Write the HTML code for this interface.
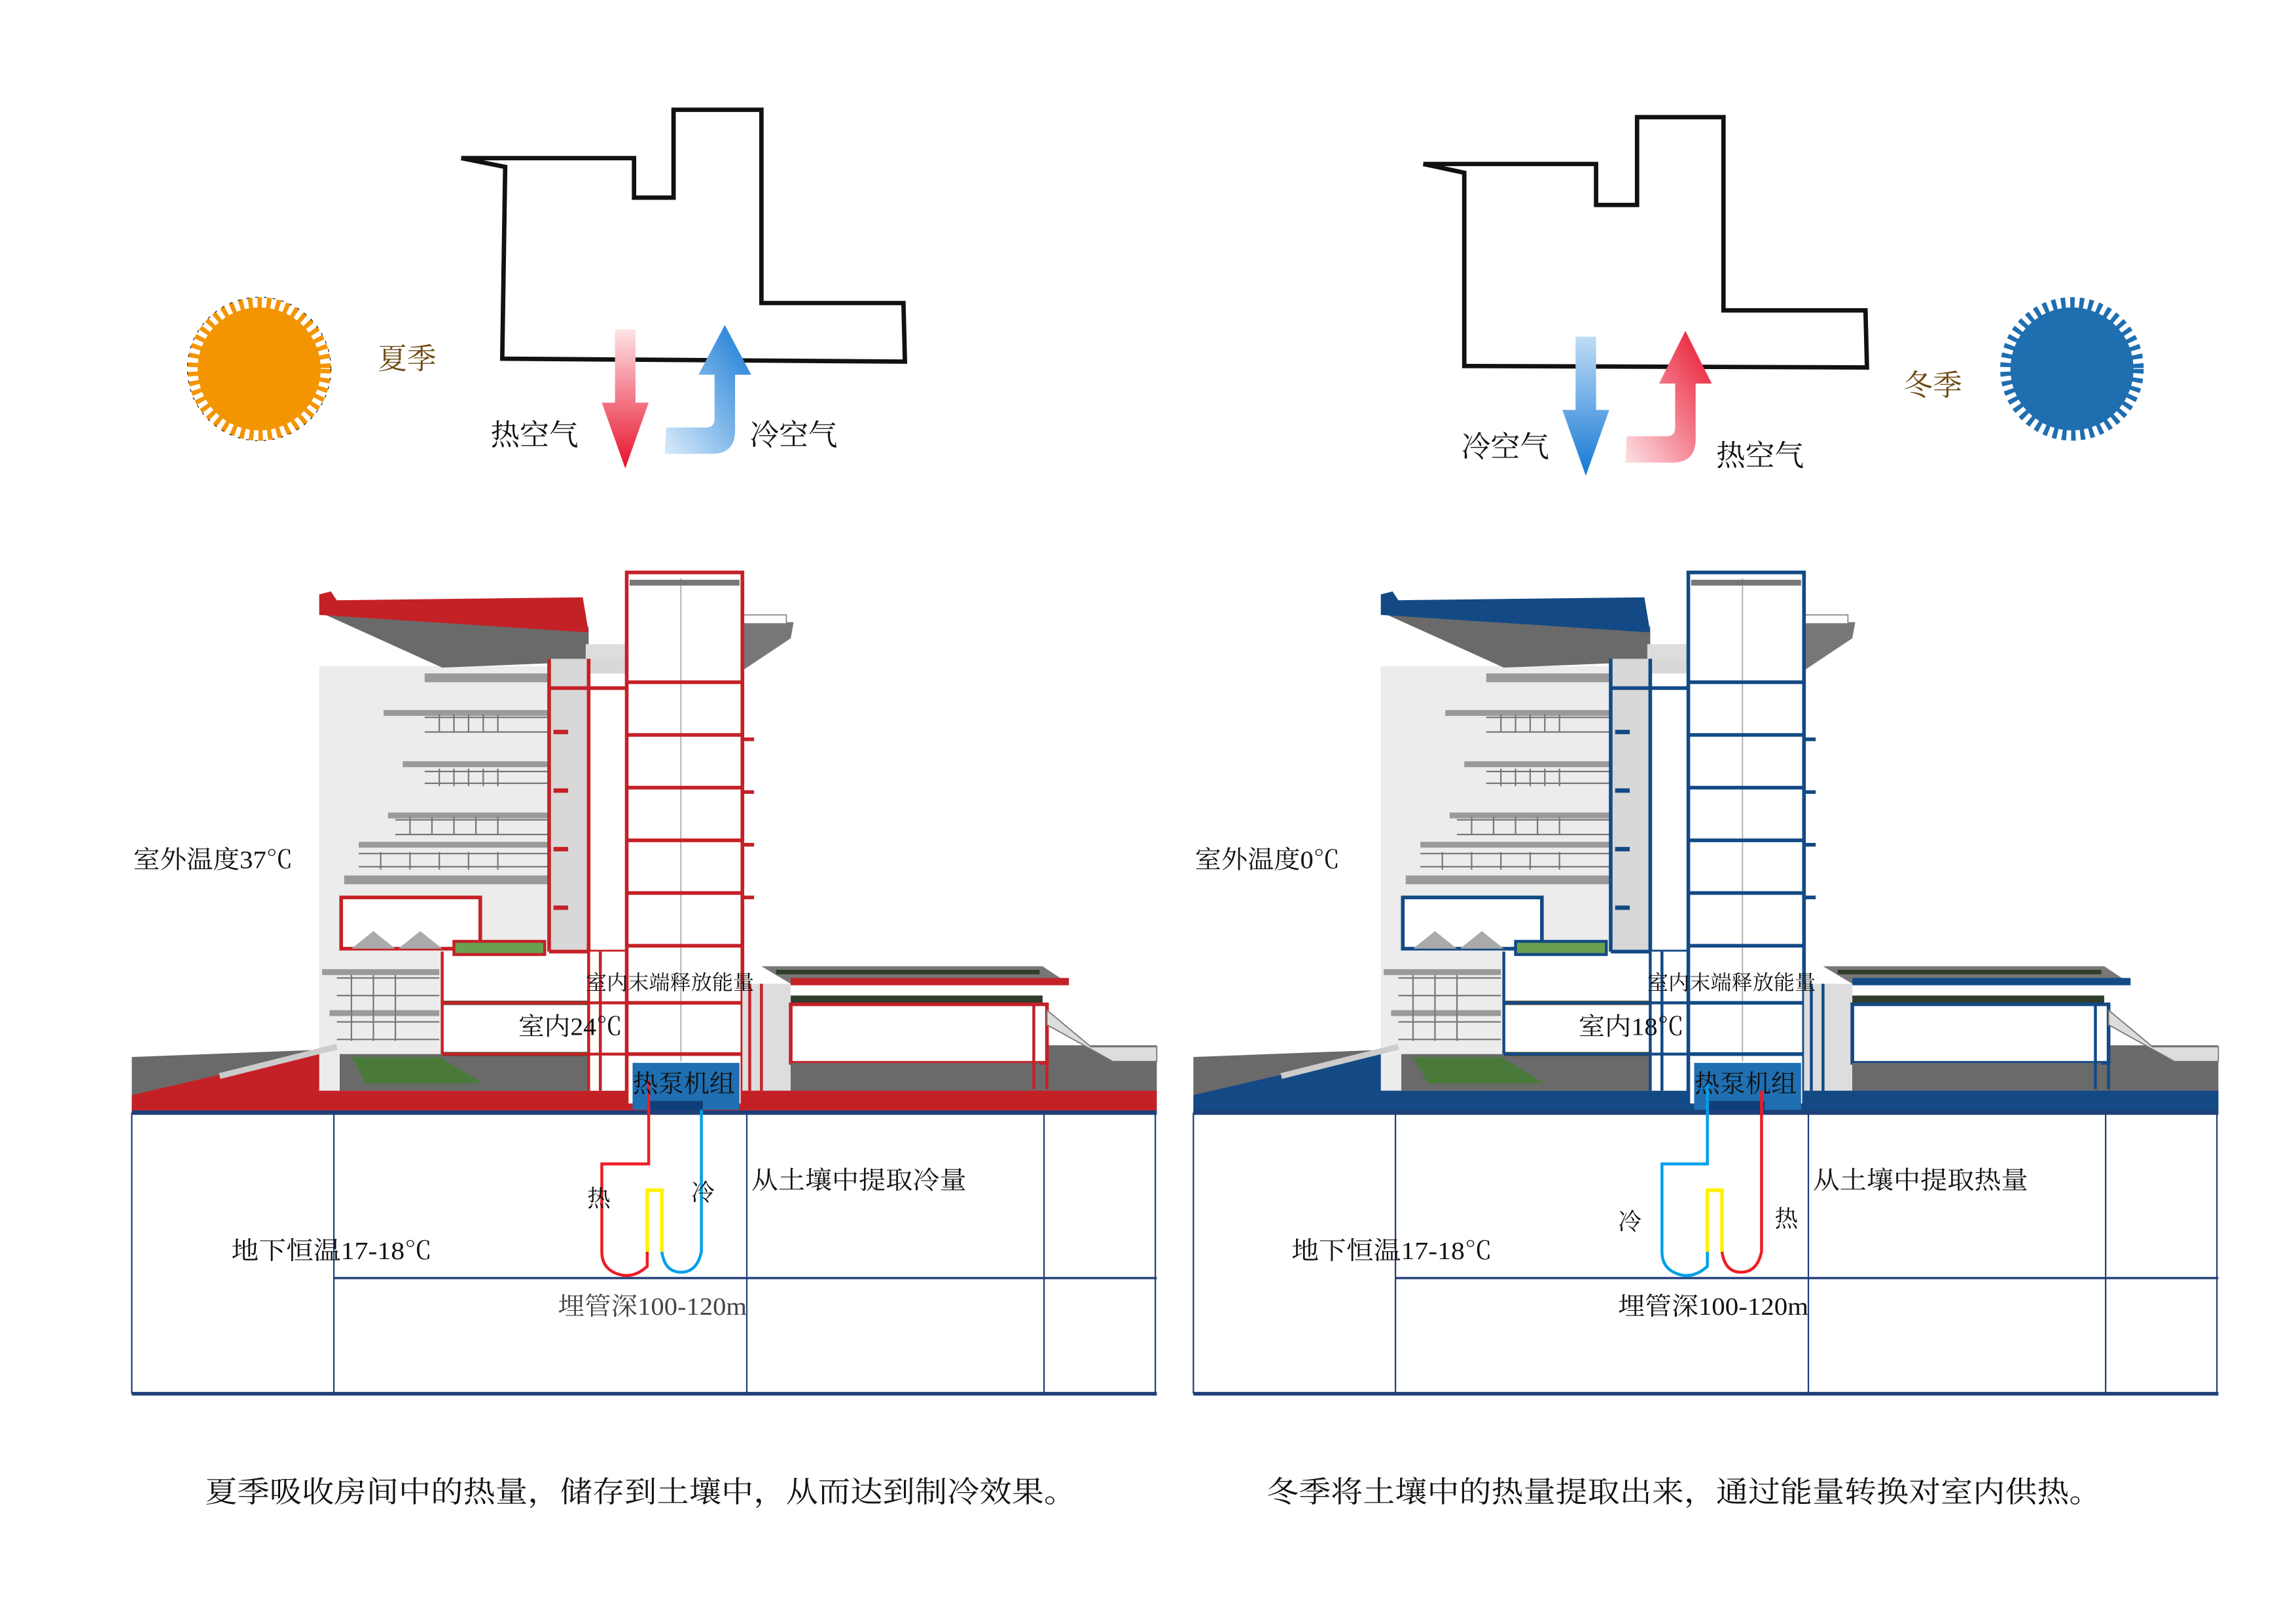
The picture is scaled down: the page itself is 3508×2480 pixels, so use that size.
<!DOCTYPE html>
<html><head><meta charset="utf-8">
<style>
html,body{margin:0;padding:0;background:#fff;}
svg{display:block;}
text{font-family:"Liberation Serif","Noto Serif CJK SC","Noto Sans CJK SC",serif;fill:#111;}
</style></head><body>
<svg width="3508" height="2480" viewBox="0 0 1568 1108.6" preserveAspectRatio="none" xmlns="http://www.w3.org/2000/svg">
<defs>
<linearGradient id="gRedDown" x1="0" y1="0" x2="0" y2="1"><stop offset="0" stop-color="#fde3e6"/><stop offset="1" stop-color="#e8102a"/></linearGradient>
<linearGradient id="gBlueUp" x1="0" y1="1" x2="1" y2="0"><stop offset="0" stop-color="#d8ebfa"/><stop offset="1" stop-color="#1478d4"/></linearGradient>
<linearGradient id="gBlueDown" x1="0" y1="0" x2="0" y2="1"><stop offset="0" stop-color="#bfdcf5"/><stop offset="1" stop-color="#1478d4"/></linearGradient>
<linearGradient id="gRedUp" x1="0" y1="1" x2="1" y2="0"><stop offset="0" stop-color="#fde0e4"/><stop offset="1" stop-color="#e8102a"/></linearGradient>
<g id="bld">
  <polygon points="90,722 300,714 790,714 790,760 90,760" fill="#6a6a6a"/>
  <polygon points="90,757 90,748 228,716 300,716 300,745 790,745 790,760 90,760" fill="currentColor"/>
  <rect x="218" y="455" width="210" height="290" fill="#ececec"/>
  <rect x="232" y="720" width="200" height="25" fill="#6a6a6a"/>
  <polygon points="240,722 300,722 330,740 250,740" fill="#4a7a3a"/>
  <g fill="#9a9a9a">
    <rect x="290" y="460" width="85" height="6"/>
    <rect x="262" y="485" width="113" height="4"/>
    <rect x="275" y="520" width="100" height="4"/>
    <rect x="265" y="555" width="110" height="4"/>
    <rect x="245" y="575" width="130" height="4"/>
    <rect x="235" y="598" width="140" height="6"/>
    <rect x="220" y="662" width="80" height="4"/>
    <rect x="225" y="690" width="75" height="4"/>
  </g>
  <g stroke="#777" stroke-width="1" fill="none">
    <path d="M290,490h85M290,500h85M290,527h85M290,535h85M270,560h105M270,570h105M245,583h130M245,592h130M230,668h70M230,680h70M230,698h70M230,710h70"/>
    <path d="M300,488v12M310,488v12M320,488v12M330,488v12M340,488v12M300,525v12M310,525v12M320,525v12M330,525v12M340,525v12M280,558v12M295,558v12M310,558v12M325,558v12M340,558v12M260,582v12M280,582v12M300,582v12M320,582v12M340,582v12M240,666v45M255,666v45M270,666v45"/>
  </g>
  <rect x="233" y="613" width="95" height="35" fill="#fff" stroke="currentColor" stroke-width="2.5"/>
  <polygon points="240,648 255,636 270,648" fill="#aaa"/><polygon points="272,648 287,636 302,648" fill="#aaa"/>
  <rect x="302" y="650" width="128" height="70" fill="#fff"/>
  <path d="M302,685h128M302,720h130" stroke="#5a4f3a" stroke-width="3"/>
  <path d="M302,650v70M302,685h128M302,720h128" stroke="currentColor" stroke-width="2" fill="none"/>
  <rect x="310" y="643" width="62" height="9" fill="#6aa150" stroke="currentColor" stroke-width="2"/>
  <polygon points="218,418 402,428 402,452 302,456" fill="#6a6a6a"/>
  <polygon points="218,406 226,404 230,410 398,408 402,432 218,420" fill="currentColor"/>
  <rect x="400" y="440" width="28" height="30" fill="#ddd"/>
  <polygon points="507,425 542,425 540,436 507,458" fill="#777"/>
  <rect x="507" y="420" width="30" height="6" fill="#fff" stroke="#888" stroke-width="0.8"/>
  <rect x="375" y="450" width="53" height="200" fill="#d8d8d8"/>
  <rect x="402" y="460" width="26" height="190" fill="#fff"/>
  <path d="M375,450v200M402,450v200M375,470h53M375,650h53" stroke="currentColor" stroke-width="2.5" fill="none"/>
  <path d="M378,500h10M378,540h10M378,580h10M378,620h10" stroke="currentColor" stroke-width="3"/>
  <rect x="402" y="650" width="26" height="95" fill="#fff"/>
  <path d="M402,650v95M410,650v95M402,685h26M402,720h26" stroke="currentColor" stroke-width="2" fill="none"/>
  <rect x="428" y="390" width="79" height="365" fill="#fff"/>
  <path d="M465,395v330" stroke="#aaa" stroke-width="0.8"/>
  <rect x="430" y="396" width="75" height="4" fill="#777"/>
  <g stroke="currentColor" stroke-width="2.5" fill="none">
    <rect x="428" y="391" width="79" height="364"/>
    <path d="M428,466h79M428,502h79M428,538h79M428,574h79M428,610h79M428,646h79M428,685h79M428,720h79"/>
    <path d="M507,505h8M507,541h8M507,577h8M507,613h8"/>
  </g>
  <polygon points="520,660 712,660 730,672 540,672" fill="#777"/>
  <path d="M530,664h180" stroke="#2f3d2a" stroke-width="3"/>
  <rect x="540" y="668" width="190" height="5" fill="currentColor"/>
  <rect x="507" y="672" width="33" height="73" fill="#ddd"/>
  <rect x="540" y="680" width="175" height="45" fill="#fff"/>
  <rect x="540" y="680" width="172" height="6" fill="#2f3d2a"/>
  <path d="M540,686h175v40h-175z" stroke="currentColor" stroke-width="2.5" fill="none"/>
  <rect x="540" y="726" width="170" height="18" fill="#6a6a6a"/>
  <path d="M512,672v73M520,672v73M706,686v58M715,686v58" stroke="currentColor" stroke-width="2" fill="none"/>
  <polygon points="715,690 745,715 790,715 790,725 760,725 715,700" fill="#ddd" stroke="#777" stroke-width="0.8"/>
  <path d="M150,735 L230,715" stroke="#ccc" stroke-width="4"/>
  <rect x="432" y="726" width="73" height="32" fill="#1f6fb2"/>
  <rect x="442" y="752" width="38" height="8" fill="#0f3f7a"/>
  <g stroke="#1f3f78" fill="none">
    <path d="M90,760H790" stroke-width="3"/>
    <path d="M90,952H790" stroke-width="2.5"/>
    <path d="M228,873H790" stroke-width="1.5"/>
    <path d="M90,760V952M228,760V952M510,760V952M713,760V952M789,760V952" stroke-width="1"/>
  </g>
</g>
</defs>

<circle cx="177" cy="252" r="42" fill="#f39500"/>
<circle cx="177" cy="252" r="45" fill="none" stroke="#f39500" stroke-width="8" stroke-dasharray="3 3.2"/>
<circle cx="177" cy="252" r="49" fill="none" stroke="#333" stroke-width="0.6" stroke-dasharray="2 4"/>
<text x="258" y="252" font-size="20" style="fill:#6b4a12">夏季</text>
<polyline points="315,108 345,114 343,245 618,247 617,207 520,207 520,75 460,75 460,135 433,135 433,108 315,108" fill="none" stroke="#111" stroke-width="3"/>
<path d="M420,225h14v50h9l-16,45l-16,-45h9z" fill="url(#gRedDown)"/>
<path d="M455,292h27q6,0 6,-6v-30h-11l18,-34l18,34h-11v38q0,16 -16,16h-32z" fill="url(#gBlueUp)"/>
<text x="335" y="304" font-size="20">热空气</text>
<text x="512" y="304" font-size="20">冷空气</text>

<circle cx="1415" cy="252" r="42" fill="#1f6eb0"/>
<circle cx="1415" cy="252" r="45" fill="none" stroke="#1f6eb0" stroke-width="8" stroke-dasharray="3 3.2"/>
<text x="1300" y="270" font-size="20" style="fill:#6b4a12">冬季</text>
<polyline points="972,112 1000,118 1000,250 1275,251 1274,212 1177,212 1177,80 1118,80 1118,140 1090,140 1090,112 972,112" fill="none" stroke="#111" stroke-width="3"/>
<path d="M1076,230h14v50h9l-16,45l-16,-45h9z" fill="url(#gBlueDown)"/>
<path d="M1111,298h27q6,0 6,-6v-30h-11l18,-36l18,36h-11v38q0,16 -16,16h-32z" fill="url(#gRedUp)"/>
<text x="998" y="312" font-size="20">冷空气</text>
<text x="1172" y="318" font-size="20">热空气</text>

<use href="#bld" style="color:#c42127"/>
<use href="#bld" transform="translate(725,0)" style="color:#134a85"/>

<g fill="none" stroke-width="2">
  <path d="M443,738V795H411V855q0,10 8,14q12,6 23,-4v-10" stroke="#ee1c25"/>
  <path d="M442,855V813h10V855" stroke="#fff200" stroke-width="2.5"/>
  <path d="M479,758V855q-3,14 -14,14q-11,0 -13,-14" stroke="#00a0e9"/>
</g>
<text x="401" y="824" font-size="16">热</text>
<text x="472" y="820" font-size="16">冷</text>
<g fill="none" stroke-width="2">
  <path d="M1166,740V795H1135V855q0,10 8,14q12,6 23,-4v-10" stroke="#00a0e9"/>
  <path d="M1166,855V813h10V855" stroke="#fff200" stroke-width="2.5"/>
  <path d="M1203,745V855q-3,14 -14,14q-11,0 -13,-14" stroke="#ee1c25"/>
</g>
<text x="1105" y="840" font-size="16">冷</text>
<text x="1212" y="838" font-size="16">热</text>

<text x="91" y="593" font-size="17" textLength="109" lengthAdjust="spacingAndGlyphs">室外温度37℃</text>
<text x="400" y="676" font-size="14" textLength="115" lengthAdjust="spacingAndGlyphs">室内末端释放能量</text>
<text x="354" y="707" font-size="17" textLength="71" lengthAdjust="spacingAndGlyphs">室内24℃</text>
<text x="432" y="746" font-size="17" textLength="70" lengthAdjust="spacingAndGlyphs">热泵机组</text>
<text x="513" y="812" font-size="17" textLength="147" lengthAdjust="spacingAndGlyphs">从土壤中提取冷量</text>
<text x="158" y="860" font-size="17" textLength="137" lengthAdjust="spacingAndGlyphs">地下恒温17-18℃</text>
<text x="381" y="898" font-size="17" textLength="129" lengthAdjust="spacingAndGlyphs" style="fill:#444">埋管深100-120m</text>
<text x="816" y="593" font-size="17" textLength="99" lengthAdjust="spacingAndGlyphs">室外温度0℃</text>
<text x="1125" y="676" font-size="14" textLength="115" lengthAdjust="spacingAndGlyphs">室内末端释放能量</text>
<text x="1078" y="707" font-size="17" textLength="72" lengthAdjust="spacingAndGlyphs">室内18℃</text>
<text x="1157" y="746" font-size="17" textLength="70" lengthAdjust="spacingAndGlyphs">热泵机组</text>
<text x="1238" y="812" font-size="17" textLength="147" lengthAdjust="spacingAndGlyphs">从土壤中提取热量</text>
<text x="882" y="860" font-size="17" textLength="137" lengthAdjust="spacingAndGlyphs">地下恒温17-18℃</text>
<text x="1105" y="898" font-size="17" textLength="130" lengthAdjust="spacingAndGlyphs">埋管深100-120m</text>

<text x="140" y="1026" font-size="20" textLength="595" lengthAdjust="spacingAndGlyphs">夏季吸收房间中的热量，储存到土壤中，从而达到制冷效果。</text>
<text x="865" y="1026" font-size="20" textLength="570" lengthAdjust="spacingAndGlyphs">冬季将土壤中的热量提取出来，通过能量转换对室内供热。</text>
</svg>
</body></html>
